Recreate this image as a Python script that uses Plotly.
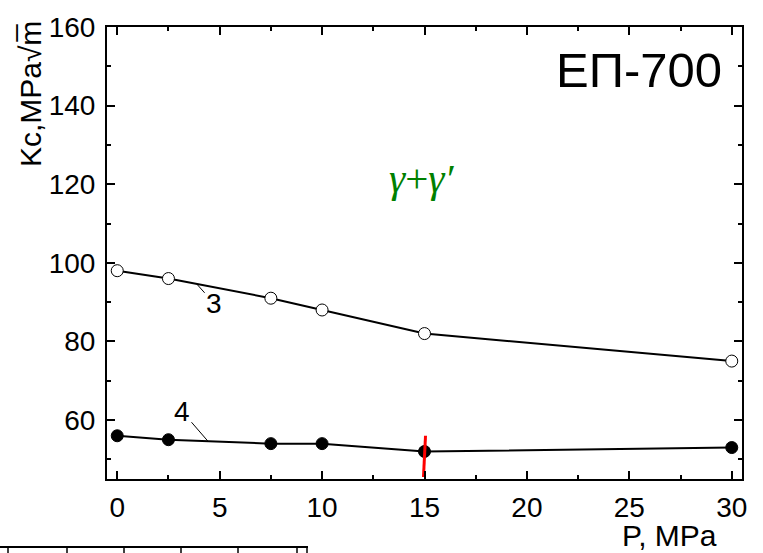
import plotly.graph_objects as go

# ---- data ----
pressure = [0, 2.5, 7.5, 10, 15, 30]
kc_curve3 = [98, 96, 91, 88, 82, 75]
kc_curve4 = [56, 55, 54, 54, 52, 53]
red_mark_x = [15.05, 14.95]
red_mark_y = [56, 45.5]
x_ticks = [0, 5, 10, 15, 20, 25, 30]
y_ticks = [60, 80, 100, 120, 140, 160]

W, H = 763, 553
ML, MR, MT, MB = 107, 21, 20, 74
PW, PH = W - ML - MR, H - MT - MB

def px(xp):
    return (xp - ML) / PW

def py(yp):
    return (H - MB - yp) / PH

FONT = "Liberation Sans, Arial, sans-serif"

fig = go.Figure()
fig.add_trace(go.Scatter(
    x=pressure, y=kc_curve3, mode="lines+markers",
    line=dict(color="black", width=2),
    marker=dict(symbol="circle", size=12, color="white",
                line=dict(color="black", width=1)),
    showlegend=False))
fig.add_trace(go.Scatter(
    x=pressure, y=kc_curve4, mode="lines+markers",
    line=dict(color="black", width=2),
    marker=dict(symbol="circle", size=12, color="black",
                line=dict(color="black", width=1)),
    showlegend=False))
fig.add_trace(go.Scatter(
    x=red_mark_x, y=red_mark_y, mode="lines",
    line=dict(color="#ff0000", width=3), showlegend=False))

axis_common = dict(
    showline=True, linecolor="black", linewidth=2, mirror="ticks",
    ticks="inside", ticklen=8, tickwidth=2, tickcolor="black",
    showgrid=False, zeroline=False,
    tickfont=dict(family=FONT, size=28, color="black"),
)
fig.update_xaxes(range=[-0.5, 30.5], tickvals=x_ticks, ticklabelstandoff=2,
                 minor=dict(ticks="inside", ticklen=4, tickwidth=2,
                            tickcolor="black", dtick=2.5, tick0=0),
                 **axis_common)
fig.update_yaxes(range=[45, 160], tickvals=y_ticks, ticklabelstandoff=4,
                 minor=dict(ticks="inside", ticklen=4, tickwidth=2,
                            tickcolor="black", dtick=10, tick0=0),
                 **axis_common)

annotations = [
    dict(text="Kc,MPa√m\u0305", xref="paper", yref="paper",
         x=px(30), y=py(12), xanchor="center", yanchor="top",
         textangle=-90, showarrow=False,
         font=dict(family=FONT, size=30, color="black")),
    dict(text="P, MPa", xref="paper", yref="paper",
         x=px(669), y=py(536), xanchor="center", yanchor="middle",
         showarrow=False, font=dict(family=FONT, size=30, color="black")),
    dict(text="ЕП-700", xref="paper", yref="paper",
         x=px(639), y=py(64), xanchor="center", yanchor="middle",
         showarrow=False, font=dict(family=FONT, size=49, color="black")),
    dict(text="<i>γ</i>+<i>γ′</i>", xref="paper", yref="paper",
         x=px(421), y=py(173), xanchor="center", yanchor="middle",
         showarrow=False,
         font=dict(family="Liberation Serif, Times New Roman, serif",
                   size=41, color="#008000")),
    dict(text="3", x=3.9, y=94.5, xref="x", yref="y",
         ax=17, ay=19, showarrow=True, arrowhead=0, arrowwidth=1,
         arrowcolor="black", font=dict(family=FONT, size=28, color="black")),
    dict(text="4", x=4.43, y=54.6, xref="x", yref="y",
         ax=-26, ay=-30, showarrow=True, arrowhead=0, arrowwidth=1,
         arrowcolor="black", font=dict(family=FONT, size=28, color="black")),
]

# table fragment at bottom-left edge
shapes = [dict(type="line", xref="paper", yref="paper",
               x0=px(0), x1=px(308), y0=py(548), y1=py(548),
               line=dict(color="black", width=2))]
for xv in [8, 67, 124, 181, 238, 297, 307]:
    shapes.append(dict(type="line", xref="paper", yref="paper",
                       x0=px(xv), x1=px(xv), y0=py(548), y1=py(556),
                       line=dict(color="black", width=1.5)))

fig.update_layout(
    width=W, height=H,
    margin=dict(l=ML, r=MR, t=MT, b=MB),
    paper_bgcolor="white", plot_bgcolor="white",
    annotations=annotations, shapes=shapes,
    showlegend=False,
)

fig.write_html("out.html")
